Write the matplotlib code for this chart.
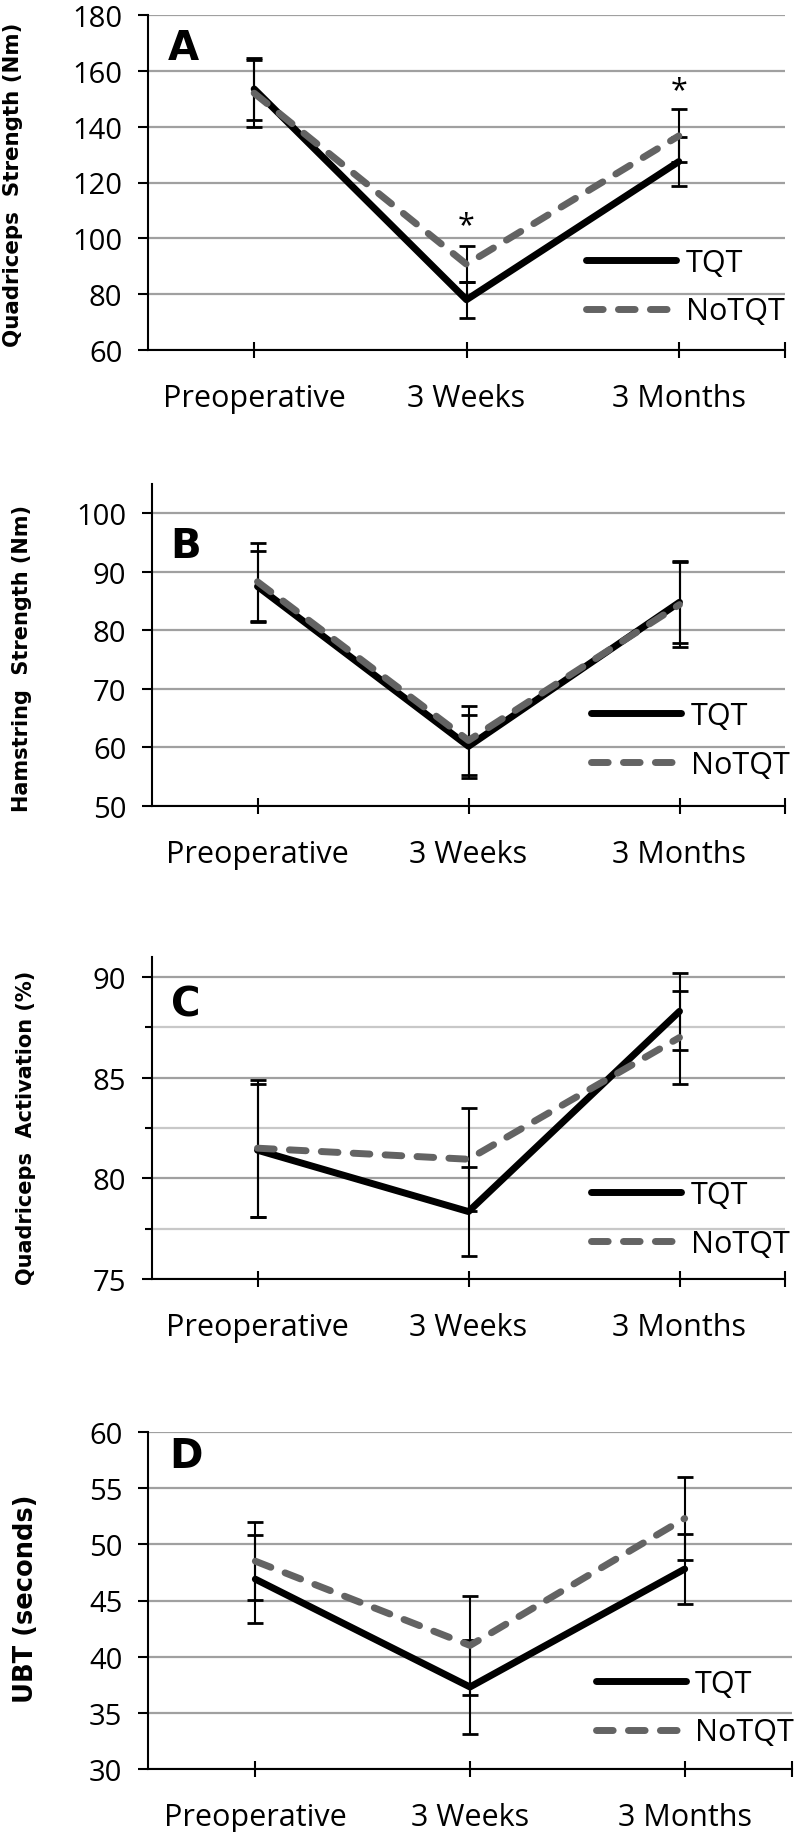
import matplotlib.pyplot as plt
from matplotlib.font_manager import FontProperties

# Time points
times = ['Preoperative', '3 Weeks', '3 Months']
x = [0, 1, 2]

# A: quadriceps strength (Nm), mean and SD
quad_tqt = [153.5, 78.0, 127.5]
quad_tqt_sd = [11.0, 6.5, 8.7]
quad_no = [152.0, 90.7, 136.7]
quad_no_sd = [12.0, 6.5, 9.5]
quad_sig_x = [1, 2]
quad_sig_y = [107.6, 156.0]

# B: hamstring strength (Nm)
ham_tqt = [87.5, 60.2, 84.8]
ham_tqt_sd = [6.0, 5.4, 7.0]
ham_no = [88.3, 61.2, 84.4]
ham_no_sd = [6.7, 5.9, 7.2]

# C: quadriceps activation (%)
act_tqt = [81.4, 78.35, 88.3]
act_tqt_sd = [3.3, 2.2, 1.9]
act_no = [81.5, 80.95, 87.0]
act_no_sd = [3.4, 2.55, 2.3]

# D: UBT (seconds)
ubt_tqt = [46.9, 37.3, 47.8]
ubt_tqt_sd = [3.9, 4.2, 3.1]
ubt_no = [48.5, 41.0, 52.3]
ubt_no_sd = [3.45, 4.4, 3.7]

W, H = 796, 1833
fig = plt.figure(figsize=(W / 100, H / 100), dpi=100)

tick_font = 'Open Sans'
label_font = 'DejaVu Sans'


def px_box(left, top, right, bottom):
    return [left / W, 1 - bottom / H, (right - left) / W, (bottom - top) / H]


panels = [
    dict(box=px_box(148, 16, 785, 351), tqt=quad_tqt, tsd=quad_tqt_sd, no=quad_no, nsd=quad_no_sd,
         ylim=(60, 180), yticks=range(60, 181, 20), minor=None, letter='A', letter_xy=(183, 60),
         ylabel='Quadriceps  Strength (Nm)', ylabel_xy=(13, 185), ylabel_size=15.4,
         leg=(0.688, 0.188)),
    dict(box=px_box(152, 485, 785, 807), tqt=ham_tqt, tsd=ham_tqt_sd, no=ham_no, nsd=ham_no_sd,
         ylim=(50, 105), yticks=range(50, 101, 10), minor=None, letter='B', letter_xy=(186, 558),
         ylabel='Hamstring  Strength (Nm)', ylabel_xy=(22, 658), ylabel_size=15.0,
         leg=(0.694, 0.203)),
    dict(box=px_box(152, 958, 785, 1280), tqt=act_tqt, tsd=act_tqt_sd, no=act_no, nsd=act_no_sd,
         ylim=(75, 91), yticks=range(75, 91, 5), minor=[77.5, 82.5, 87.5], letter='C', letter_xy=(186, 1017),
         ylabel='Quadriceps  Activation (%)', ylabel_xy=(26, 1128), ylabel_size=15.0,
         leg=(0.694, 0.185)),
    dict(box=px_box(148, 1433, 792, 1770), tqt=ubt_tqt, tsd=ubt_tqt_sd, no=ubt_no, nsd=ubt_no_sd,
         ylim=(30, 60), yticks=range(30, 61, 5), minor=None, letter='D', letter_xy=(186, 1468),
         ylabel='UBT (seconds)', ylabel_xy=(26, 1599), ylabel_size=18.5,
         leg=(0.695, 0.181)),
]

for i, p in enumerate(panels):
    ax = fig.add_axes(p['box'])
    ax.set_xlim(-0.5, 2.5)
    ax.set_ylim(*p['ylim'])
    ax.set_axisbelow(True)

    # error bars under the lines
    ax.errorbar(x, p['tqt'], yerr=p['tsd'], fmt='none', ecolor='black',
                elinewidth=1.5, capsize=5.8, capthick=2, zorder=2)
    ax.errorbar(x, p['no'], yerr=p['nsd'], fmt='none', ecolor='black',
                elinewidth=1.5, capsize=5.8, capthick=2, zorder=2)

    l1, = ax.plot(x, p['tqt'], color='black', lw=5, solid_capstyle='round',
                  solid_joinstyle='round', zorder=3)
    l2, = ax.plot(x, p['no'], color='#636363', lw=5, dashes=(2.4, 2.2),
                  dash_capstyle='round', dash_joinstyle='round', zorder=4)

    # axes styling
    for s in ['top', 'right']:
        ax.spines[s].set_visible(False)
    for s in ['left', 'bottom']:
        ax.spines[s].set_linewidth(1.5)
        ax.spines[s].set_color('black')

    ax.set_yticks(list(p['yticks']))
    ax.set_yticklabels([str(v) for v in p['yticks']], fontfamily=tick_font, fontsize=21)
    ax.tick_params(axis='y', direction='out', length=7.5, width=1.5, pad=11, color='black')
    ax.yaxis.grid(True, which='major', color='#a0a0a0', lw=1.6)
    if p['minor'] is not None:
        ax.set_yticks(p['minor'], minor=True)
        ax.tick_params(axis='y', which='minor', direction='out', length=5, width=1.5)
        ax.yaxis.grid(True, which='minor', color='#c8c8c8', lw=1.6)

    ax.set_xticks(x)
    ax.set_xticklabels(times, fontfamily=tick_font, fontsize=22)
    ax.set_xticks([2.5], minor=True)
    ax.tick_params(axis='x', which='both', direction='inout', length=12, width=1.5, pad=18, color='black')

    # legend inside, no frame
    ax.legend([l1, l2], ['TQT', 'NoTQT'], loc='center left', bbox_to_anchor=p['leg'],
              frameon=False, borderpad=0, borderaxespad=0, handlelength=2.95,
              handletextpad=0.3, labelspacing=0.62,
              prop=FontProperties(family=tick_font, size=22))

    # panel letter and y label
    fig.text(p['letter_xy'][0] / W, 1 - p['letter_xy'][1] / H, p['letter'],
             fontfamily=label_font, fontweight='bold', fontsize=29, ha='center', va='baseline')
    fig.text(p['ylabel_xy'][0] / W, 1 - p['ylabel_xy'][1] / H, p['ylabel'],
             fontfamily=label_font, fontweight='bold', fontsize=p['ylabel_size'],
             rotation=90, ha='center', va='center')

    if i == 0:
        for sx, sy in zip(quad_sig_x, quad_sig_y):
            ax.annotate('*', xy=(sx, sy), xytext=(0, -11.5), textcoords='offset points',
                        ha='center', va='baseline', fontfamily=tick_font, fontsize=22)

fig.savefig('out.png', dpi=100)
